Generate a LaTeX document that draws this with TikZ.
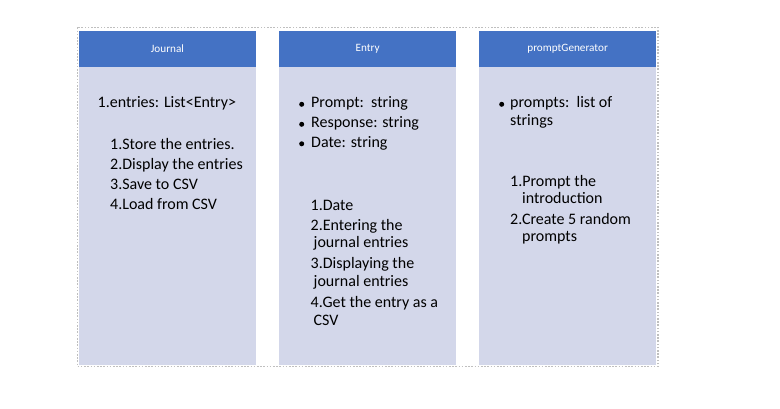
\documentclass[tikz,border=0pt]{standalone}
\usepackage{fontspec}
\setmainfont{Carlito}
\definecolor{hdrblue}{HTML}{4472C4}
\definecolor{bodyfill}{HTML}{D3D7EA}
\definecolor{dotgray}{HTML}{BFBFBF}
\newcommand{\hdrfnt}{\fontsize{11.2}{13}\selectfont}
\newcommand{\bodyfnt}{\fontsize{16}{19}\selectfont}
\tikzset{
  hdr/.style={fill=hdrblue, text=white, font=\hdrfnt, minimum width=176.5pt, minimum height=35.7pt, inner sep=0pt, anchor=north west},
  colbody/.style={fill=bodyfill, minimum width=176.5pt, minimum height=298.3pt, inner sep=0pt, anchor=north west},
  txt/.style={anchor=base west, inner sep=0pt, font=\bodyfnt, text=black},
  bul/.style={circle, fill=black, inner sep=0pt, minimum size=5pt},
  frame/.style={draw=dotgray, line width=1.5pt, dash pattern=on 1.6pt off 1.6pt}
}
\begin{document}
\begin{tikzpicture}[x=1pt,y=-1pt]
\useasboundingbox (0,0) rectangle (780,409);
\draw[frame] (77.5,27.5) rectangle (658,366.5);
% columns
\node[colbody] (b1) at (79,66.7) {};
\node[colbody] (b2) at (279.2,66.7) {};
\node[colbody] (b3) at (479.2,66.7) {};
\node[hdr] (h1) at (79,31) {Journal};
\node[hdr] (h2) at (279.2,31) {Entry};
\node[hdr] (h3) at (479.2,31) {promptGenerator};
% Journal
\node[txt] (j0) at (97.5,108) {1.entries: List<Entry>};
\node[txt] (j1) at (110,149.3) {1.Store the entries.};
\node[txt] (j2) at (110,169.3) {2.Display the entries};
\node[txt] (j3) at (110,189.3) {3.Save to CSV};
\node[txt] (j4) at (110,209.3) {4.Load from CSV};
% Entry
\node[bul] (eb1) at (301.7,104.3) {};
\node[bul] (eb2) at (301.7,124.3) {};
\node[bul] (eb3) at (301.7,143.8) {};
\node[txt] (e1) at (311,108) {Prompt:\ \ string};
\node[txt] (e2) at (311,128) {Response: string};
\node[txt] (e3) at (311,147.5) {Date: string};
\node[txt] (m1) at (310.5,211) {1.Date};
\node[txt] (m2) at (310.5,230) {2.Entering the};
\node[txt] (m2b) at (313.5,247.7) {journal entries};
\node[txt] (m3) at (310.5,268.5) {3.Displaying the};
\node[txt] (m3b) at (313.5,286.5) {journal entries};
\node[txt] (m4) at (310.5,307.5) {4.Get the entry as a};
\node[txt] (m4b) at (313.5,325) {CSV};
% promptGenerator
\node[bul] (pb1) at (501.7,104.3) {};
\node[txt] (p1) at (510,108) {prompts:\ \ list of};
\node[txt] (p1b) at (510,125.5) {strings};
\node[txt] (q1) at (510,186.5) {1.Prompt the};
\node[txt] (q1b) at (522,204) {introduction};
\node[txt] (q2) at (510,224.5) {2.Create 5 random};
\node[txt] (q2b) at (522,242) {prompts};
\end{tikzpicture}
\end{document}
